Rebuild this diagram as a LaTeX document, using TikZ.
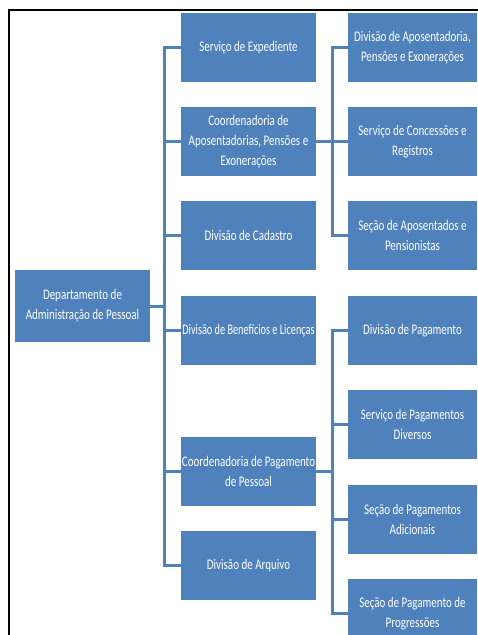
\documentclass[tikz,border=0pt]{standalone}
\usepackage{fontspec}
\usepackage{xcolor}
\usepackage{tikz}
\newfontfamily\policeboite[FakeStretch=0.75]{Carlito}
\newfontfamily\policeserree[FakeStretch=0.7]{Carlito}
\definecolor{bleuboite}{HTML}{4F81BD}

\begin{document}
\begin{tikzpicture}[x=0.75pt,y=-0.75pt]
% Styles
\tikzstyle{boite}=[fill=bleuboite,draw=none,text=white,align=center,inner xsep=0pt,inner ysep=0pt,minimum width=101.25pt,minimum height=51.75pt,font=\policeboite\fontsize{11}{15}\selectfont]
\tikzstyle{racine}=[boite,minimum height=54pt]
\tikzstyle{feuille}=[boite,minimum width=96.75pt]
\tikzstyle{trait}=[draw=bleuboite,line width=2.25pt]
\tikzstyle{cadre}=[draw=black,line width=1.5pt]
% Dimensions
\def\XRacine{82.5}
\def\XNiveauA{248.5}
\def\XNiveauB{412.5}
\useasboundingbox (0,0) rectangle (478,635);
% Cadre
\draw[cadre] (9,640) -- (9,10) -- (483,10);
% Barres verticales
\coordinate (BarreA) at (164.5,0);
\coordinate (BarreB) at (332,0);
% Boites
\node[racine] (R) at ({\XRacine},306) {Departamento de\\Administração de Pessoal};
\node[boite] (A1) at ({\XNiveauA},47.5) {Serviço de Expediente};
\node[boite] (A2) at ({\XNiveauA},141.5) {Coordenadoria de\\Aposentadorias, Pensões e\\Exonerações};
\node[boite] (A3) at ({\XNiveauA},235.5) {Divisão de Cadastro};
\node[boite,font=\policeserree\fontsize{11}{15}\selectfont] (A4) at ({\XNiveauA},330.5) {Divisão de Benefícios e Licenças};
\node[boite] (A5) at ({\XNiveauA},471.5) {Coordenadoria de Pagamento\\de Pessoal};
\node[boite] (A6) at ({\XNiveauA},565.5) {Divisão de Arquivo};
\node[feuille] (B1) at ({\XNiveauB},47.5) {Divisão de Aposentadoria,\\Pensões e Exonerações};
\node[feuille] (B2) at ({\XNiveauB},141.5) {Serviço de Concessões e\\Registros};
\node[feuille] (B3) at ({\XNiveauB},235.5) {Seção de Aposentados e\\Pensionistas};
\node[feuille] (B4) at ({\XNiveauB},330.5) {Divisão de Pagamento};
\node[feuille] (B5) at ({\XNiveauB},424.5) {Serviço de Pagamentos\\Diversos};
\node[feuille] (B6) at ({\XNiveauB},519) {Seção de Pagamentos\\Adicionais};
\node[feuille] (B7) at ({\XNiveauB},613.5) {Seção de Pagamento de\\Progressões};
% Traits
\draw[trait] (R.east) -- (R.east -| BarreA);
\draw[trait] (A1.west) -- (A1.west -| BarreA) -- (A6.west -| BarreA) -- (A6.west);
\draw[trait] (A2.west) -- (A2.west -| BarreA);
\draw[trait] (A3.west) -- (A3.west -| BarreA);
\draw[trait] (A4.west) -- (A4.west -| BarreA);
\draw[trait] (A5.west) -- (A5.west -| BarreA);
\draw[trait] (A2.east) -- (A2.east -| BarreB);
\draw[trait] (B1.west) -- (B1.west -| BarreB) -- (B3.west -| BarreB) -- (B3.west);
\draw[trait] (B2.west) -- (B2.west -| BarreB);
\draw[trait] (A5.east) -- (A5.east -| BarreB);
\draw[trait] (B4.west) -- (B4.west -| BarreB) -- (B7.west -| BarreB) -- (B7.west);
\draw[trait] (B5.west) -- (B5.west -| BarreB);
\draw[trait] (B6.west) -- (B6.west -| BarreB);
\end{tikzpicture}
\end{document}
